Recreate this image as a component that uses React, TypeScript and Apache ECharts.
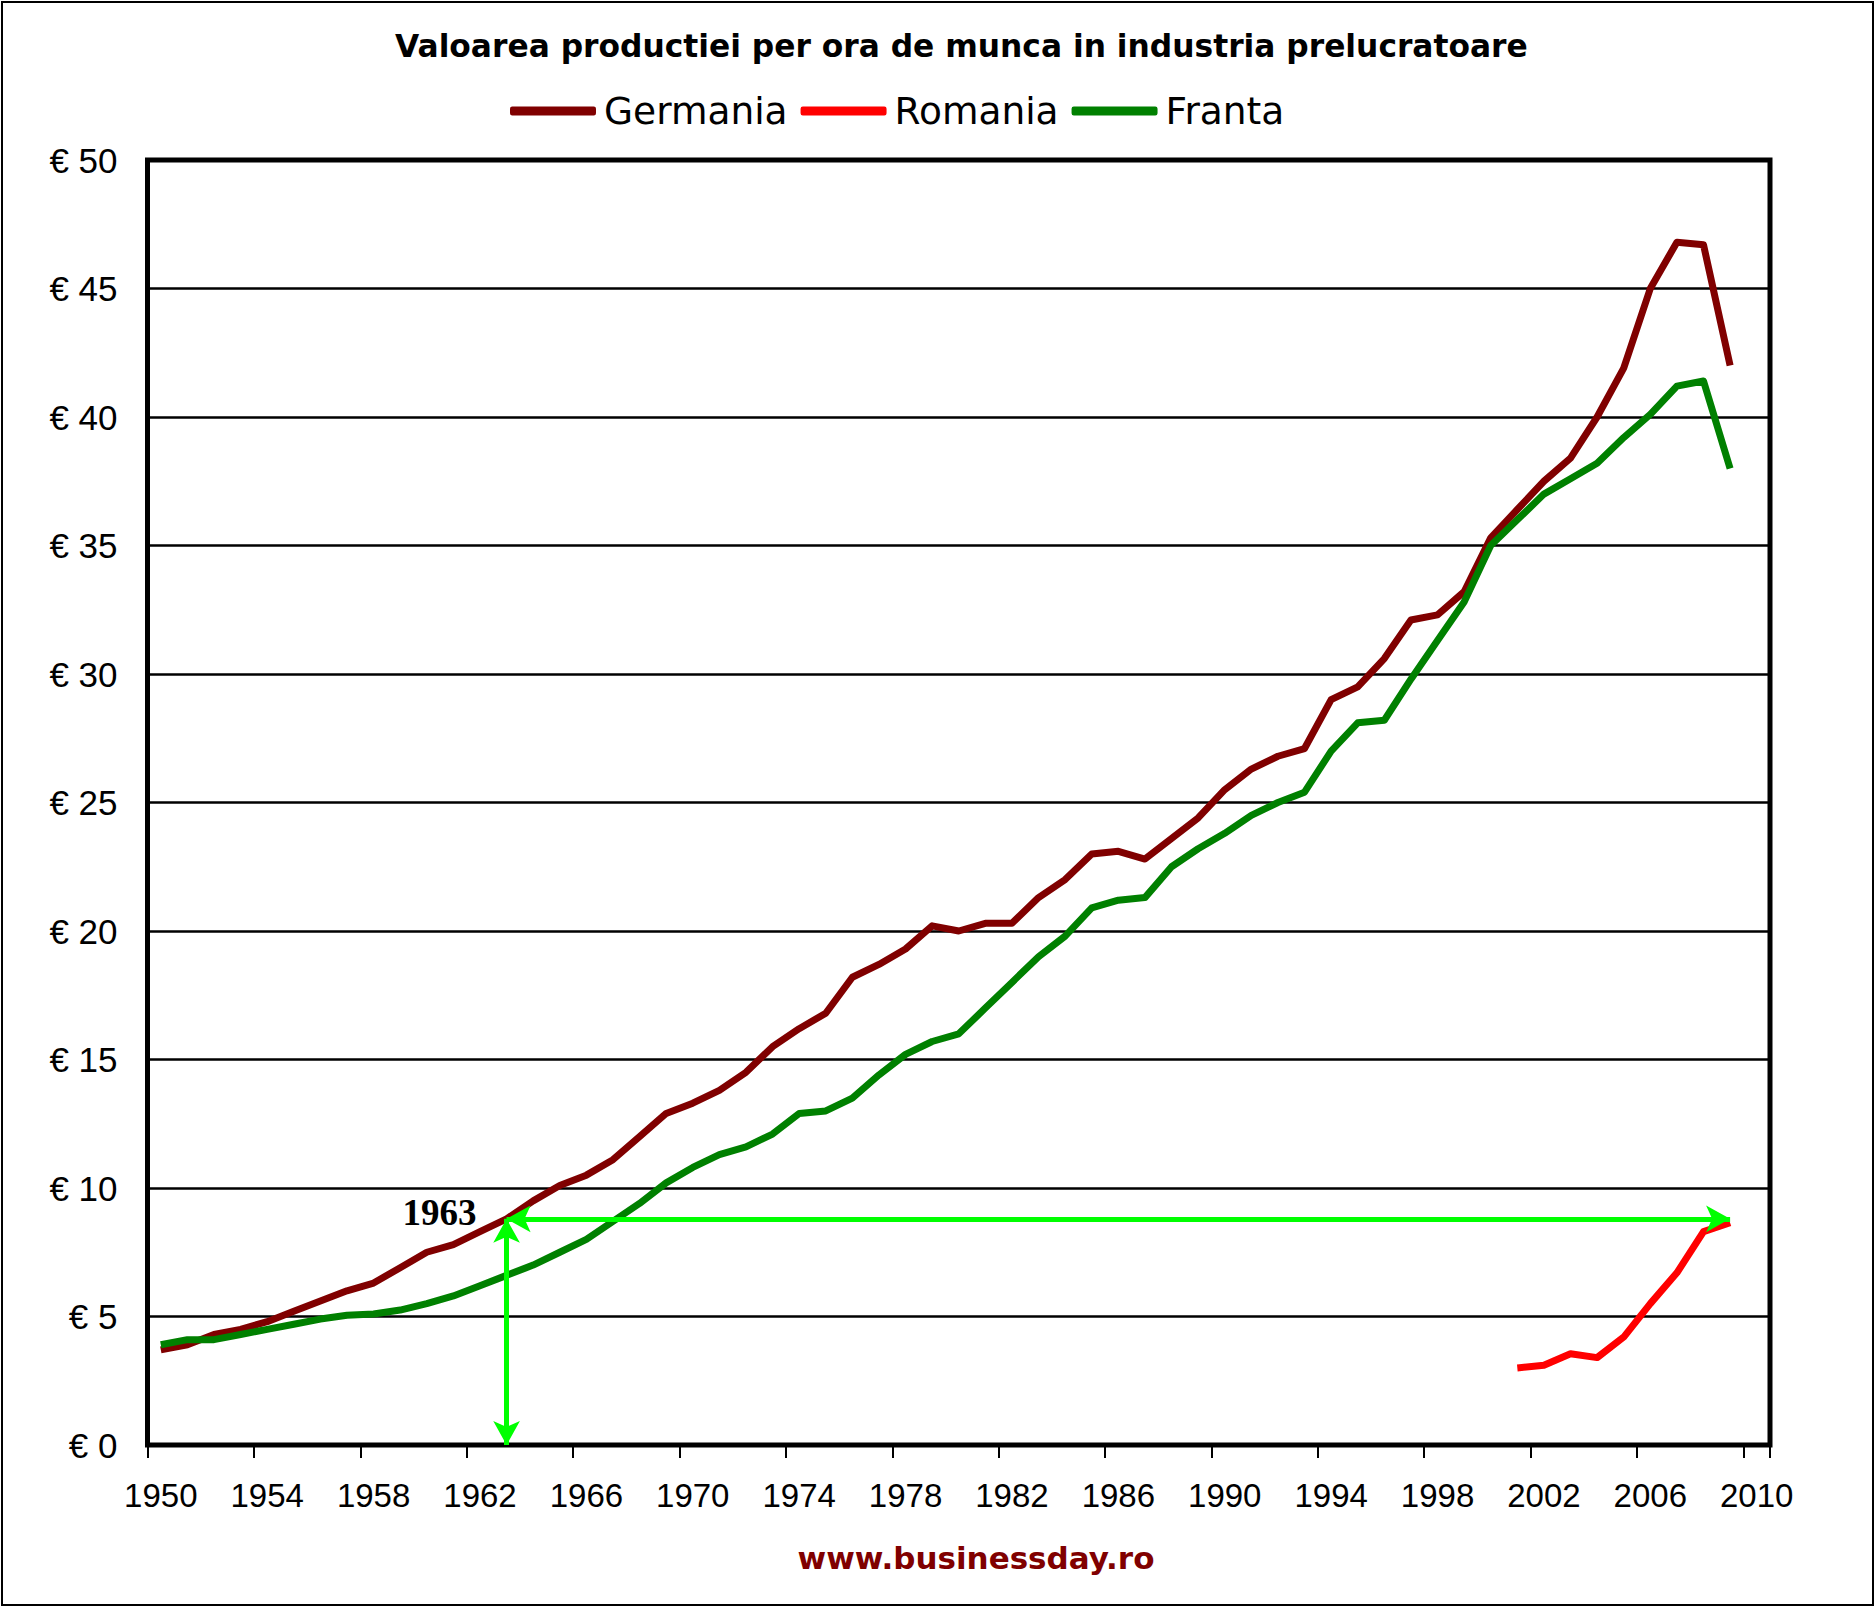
import React, { useEffect, useRef } from "react";
import * as echarts from "echarts";

const years = [
  "1950", "1951", "1952", "1953", "1954", "1955", "1956", "1957", "1958", "1959",
  "1960", "1961", "1962", "1963", "1964", "1965", "1966", "1967", "1968", "1969",
  "1970", "1971", "1972", "1973", "1974", "1975", "1976", "1977", "1978", "1979",
  "1980", "1981", "1982", "1983", "1984", "1985", "1986", "1987", "1988", "1989",
  "1990", "1991", "1992", "1993", "1994", "1995", "1996", "1997", "1998", "1999",
  "2000", "2001", "2002", "2003", "2004", "2005", "2006", "2007", "2008", "2009",
  "2010",
];

// 1950 - 2009
const germania = [
  3.7, 3.9, 4.3, 4.5, 4.8, 5.2, 5.6, 6.0, 6.3, 6.9,
  7.5, 7.8, 8.3, 8.8, 9.5, 10.1, 10.5, 11.1, 12.0, 12.9,
  13.3, 13.8, 14.5, 15.5, 16.2, 16.8, 18.2, 18.7, 19.3, 20.2,
  20.0, 20.3, 20.3, 21.3, 22.0, 23.0, 23.1, 22.8, 23.6, 24.4,
  25.5, 26.3, 26.8, 27.1, 29.0, 29.5, 30.6, 32.1, 32.3, 33.2,
  35.3, 36.4, 37.5, 38.4, 40.0, 41.9, 45.0, 46.8, 46.7, 42.0,
];

// 1950 - 2009
const franta = [
  3.9, 4.1, 4.1, 4.3, 4.5, 4.7, 4.9, 5.05, 5.1, 5.25,
  5.5, 5.8, 6.2, 6.6, 7.0, 7.5, 8.0, 8.7, 9.4, 10.2,
  10.8, 11.3, 11.6, 12.1, 12.9, 13.0, 13.5, 14.4, 15.2, 15.7,
  16.0, 17.0, 18.0, 19.0, 19.8, 20.9, 21.2, 21.3, 22.5, 23.2,
  23.8, 24.5, 25.0, 25.4, 27.0, 28.1, 28.2, 29.8, 31.3, 32.8,
  35.0, 36.0, 37.0, 37.6, 38.2, 39.2, 40.1, 41.2, 41.4, 38.0,
];

const romaniaYears = ["2001", "2002", "2003", "2004", "2005", "2006", "2007", "2008", "2009"];
const romania = [3.0, 3.1, 3.55, 3.4, 4.2, 5.5, 6.7, 8.3, 8.65];

const yTicks = { min: 0, max: 50, interval: 5 };

const annotationYear = "1963";
const annotationEndYear = "2009";
const annotationLevel = 8.8;

const seriesNames = ["Germania", "Romania", "Franta"];
const seriesColors = ["#800000", "#ff0000", "#008000"];

const titleText = "Valoarea productiei per ora de munca in industria prelucratoare";
const footerText = "www.businessday.ro";

export default function App() {
  const ref = useRef<HTMLDivElement>(null);

  useEffect(() => {
    document.body.style.margin = "0";
    const chart = echarts.init(ref.current as HTMLDivElement, null, { renderer: "svg" });
    const arrowGreen = "#00ff00";

    chart.setOption({
      animation: false,
      backgroundColor: "#ffffff",
      title: {
        text: titleText,
        left: 395,
        top: 30,
        padding: 0,
        textStyle: {
          fontFamily: "DejaVu Sans",
          fontWeight: "bold",
          fontSize: 31.3,
          color: "#000000",
        },
      },
      legend: {
        data: seriesNames,
        left: 510,
        top: 92,
        padding: 0,
        icon: "roundRect",
        itemWidth: 86,
        itemHeight: 9,
        itemGap: 13,
        textStyle: {
          fontFamily: "DejaVu Sans",
          fontSize: 37.5,
          color: "#000000",
          padding: [0, 0, 0, 3],
        },
      },
      grid: {
        left: 147.5,
        top: 160,
        right: 106,
        bottom: 163,
        show: true,
        borderColor: "#000000",
        borderWidth: 5,
        backgroundColor: "#ffffff",
      },
      xAxis: {
        type: "category",
        data: years,
        boundaryGap: true,
        axisLine: { show: false },
        axisTick: {
          show: true,
          interval: 3,
          length: 13,
          lineStyle: { color: "#000000", width: 2 },
        },
        axisLabel: {
          interval: 3,
          margin: 34,
          fontFamily: "Liberation Sans",
          fontSize: 33,
          color: "#000000",
        },
        splitLine: { show: false },
      },
      yAxis: {
        type: "value",
        min: yTicks.min,
        max: yTicks.max,
        interval: yTicks.interval,
        axisLine: { show: false },
        axisTick: { show: false },
        axisLabel: {
          margin: 30,
          fontFamily: "Liberation Sans",
          fontSize: 35,
          color: "#000000",
          formatter: (v: number) => "€ " + v,
        },
        splitLine: { show: true, lineStyle: { color: "#000000", width: 2.5 } },
      },
      series: [
        {
          name: seriesNames[0],
          type: "line",
          data: germania,
          symbol: "none",
          color: seriesColors[0],
          lineStyle: { width: 7, color: seriesColors[0], join: "round" },
          markLine: {
            silent: true,
            symbol: ["arrow", "arrow"],
            symbolSize: [20, 24],
            label: { show: false },
            emphasis: { disabled: true },
            lineStyle: { color: arrowGreen, width: 5, type: "solid" },
            data: [
              [
                { coord: [annotationYear, 0] },
                { coord: [annotationYear, annotationLevel] },
              ],
              [
                { coord: [annotationYear, annotationLevel] },
                { coord: [annotationEndYear, annotationLevel] },
              ],
            ],
          },
          markPoint: {
            silent: true,
            symbol: "circle",
            symbolSize: 0,
            data: [{ coord: [annotationYear, annotationLevel] }],
            label: {
              show: true,
              formatter: annotationYear,
              position: "left",
              distance: 30,
              offset: [0, -6],
              fontFamily: "Liberation Serif",
              fontWeight: "bold",
              fontSize: 37,
              color: "#000000",
            },
          },
        },
        {
          name: seriesNames[1],
          type: "line",
          data: romaniaYears.map((y, i) => [y, romania[i]]),
          symbol: "none",
          color: seriesColors[1],
          lineStyle: { width: 7, color: seriesColors[1], join: "round" },
        },
        {
          name: seriesNames[2],
          type: "line",
          data: franta,
          symbol: "none",
          color: seriesColors[2],
          lineStyle: { width: 7, color: seriesColors[2], join: "round" },
        },
      ],
      graphic: [
        {
          type: "rect",
          silent: true,
          shape: { x: 2, y: 2, width: 1871, height: 1603 },
          style: { fill: "none", stroke: "#000000", lineWidth: 2 },
          z: 100,
        },
        {
          type: "text",
          silent: true,
          x: 976,
          y: 1558,
          style: {
            text: footerText,
            fontFamily: "DejaVu Sans",
            fontWeight: "bold",
            fontSize: 31,
            fill: "#800000",
            textAlign: "center",
            textVerticalAlign: "middle",
          },
        },
      ],
    });

    return () => chart.dispose();
  }, []);

  return <div ref={ref} style={{ width: 1876, height: 1608 }} />;
}
